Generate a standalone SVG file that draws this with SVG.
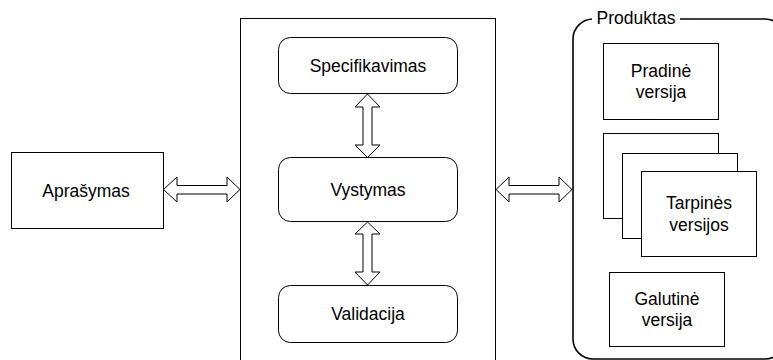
<svg xmlns="http://www.w3.org/2000/svg" width="773" height="360" viewBox="0 0 773 360">
  <style>
    .box { fill: #ffffff; stroke: #000000; stroke-width: 1; }
    .step { fill: #ffffff; stroke: #000000; stroke-width: 1; }
    .frame { fill: none; stroke: #000000; stroke-width: 1.6; }
    .arrow { fill: #ffffff; stroke: #000000; stroke-width: 1; stroke-linejoin: miter; }
    text { font-family: "Liberation Sans", Arial, sans-serif; font-size: 17.5px; fill: #000000; text-anchor: middle; }
  </style>
  <rect width="773" height="360" fill="#ffffff"/>

  <!-- input description -->
  <g id="aprasymas">
    <rect class="box" x="11.5" y="152.5" width="152" height="76"/>
    <text x="86" y="196.5">Aprašymas</text>
  </g>

  <!-- process container -->
  <g id="procesas">
    <rect class="box" x="240.5" y="18.5" width="255" height="350"/>
  </g>
  <g id="specifikavimas">
    <rect class="step" x="278.5" y="37.5" width="179" height="56" rx="12"/>
    <text x="368" y="71.5">Specifikavimas</text>
  </g>
  <g id="vystymas">
    <rect class="step" x="278.5" y="157.5" width="179" height="64" rx="12"/>
    <text x="368" y="196">Vystymas</text>
  </g>
  <g id="validacija">
    <rect class="step" x="278.5" y="285.5" width="179" height="57" rx="12"/>
    <text x="368" y="320">Validacija</text>
  </g>

  <!-- product container -->
  <g id="produktas">
    <rect class="frame" x="573" y="19" width="212" height="340" rx="20"/>
    <rect x="592" y="12" width="88" height="14" fill="#ffffff"/>
    <text x="636" y="23.5">Produktas</text>
  </g>
  <g id="pradine-versija">
    <rect class="box" x="603.5" y="43.5" width="115" height="76"/>
    <text x="661" y="77">Pradinė</text>
    <text x="661" y="98">versija</text>
  </g>
  <g id="tarpines-versijos">
    <rect class="box" x="603.5" y="133.5" width="115" height="85"/>
    <rect class="box" x="622.5" y="153.5" width="115" height="85"/>
    <rect class="box" x="641.5" y="171.5" width="115" height="85"/>
    <text x="699" y="209">Tarpinės</text>
    <text x="699" y="231">versijos</text>
  </g>
  <g id="galutine-versija">
    <rect class="box" x="609.5" y="272.5" width="115" height="74"/>
    <text x="667" y="305">Galutinė</text>
    <text x="667" y="326">versija</text>
  </g>

  <!-- two-way block arrows -->
  <g id="connectors">
    <polygon class="arrow" points="163.5,189.5 177,177 177,185.5 227,185.5 227,177 240,189.5 227,202 227,194 177,194 177,202"/>
    <polygon class="arrow" points="496,189.5 509,177 509,185.5 559,185.5 559,177 572,189.5 559,202 559,194 509,194 509,202"/>
    <polygon class="arrow" points="367.5,94 380,107 372,107 372,145 380,145 367.5,157.5 355,145 363,145 363,107 355,107"/>
    <polygon class="arrow" points="367.5,222 380,234 372,234 372,272 380,272 367.5,285 355,272 363,272 363,234 355,234"/>
  </g>
</svg>
